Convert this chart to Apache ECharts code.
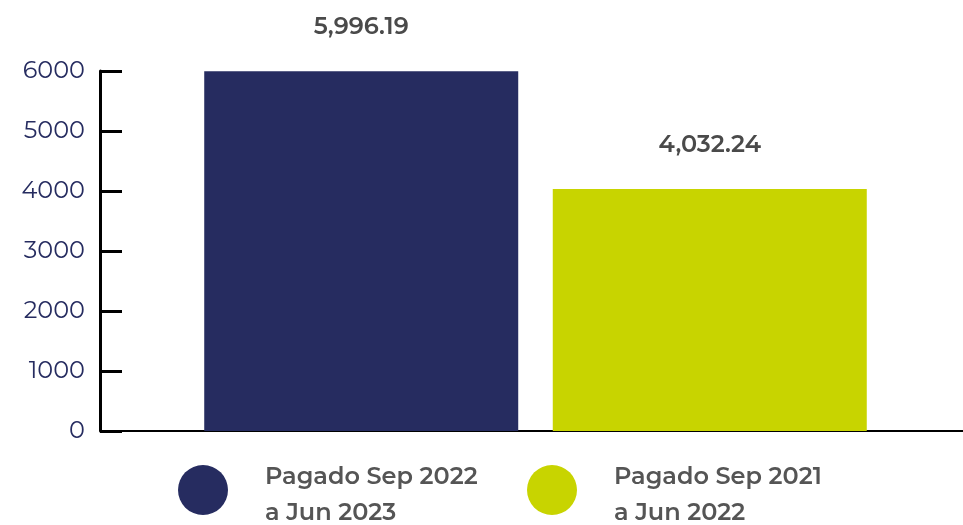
<!DOCTYPE html>
<html>
<head>
<meta charset="utf-8">
<script src="https://cdn.jsdelivr.net/npm/echarts@6/dist/echarts.min.js"></script>
<style>
  html, body { margin: 0; padding: 0; background: #fff; }
  #chart { width: 963px; height: 525px; }
</style>
</head>
<body>
<div id="chart"></div>
<script>
// data
var categories = ['Pagado'];
var seriesNames = ['Pagado Sep 2022\na Jun 2023', 'Pagado Sep 2021\na Jun 2022'];
var valuesCurrent = [5996.19];
var valuesPrevious = [4032.24];
var yTicks = [0, 1000, 2000, 3000, 4000, 5000, 6000];

var colors = ['#262c60', '#c8d400'];
var labelFont = 'Montserrat, "Open Sans", sans-serif';

function fmt(v) {
  return v.toLocaleString('en-US', { minimumFractionDigits: 2, maximumFractionDigits: 2 });
}

var chart = echarts.init(document.getElementById('chart'));

var legendFontBase = { color: '#555555', fontSize: 24, fontWeight: 600, fontFamily: labelFont };

var legendBase = {
  orient: 'vertical',
  icon: 'circle',
  itemWidth: 50,
  itemHeight: 50,
  selectedMode: false,
  // uneven line heights so the dot sits a bit above the middle of the two lines
  formatter: function (name) {
    var parts = name.split('\n');
    return '{l1|' + parts[0] + '}\n{l2|' + parts[1] + '}';
  },
  textStyle: Object.assign({}, legendFontBase, {
    padding: [0, 0, 0, 32],
    rich: {
      l1: Object.assign({}, legendFontBase, { lineHeight: 46 }),
      l2: Object.assign({}, legendFontBase, { lineHeight: 26 })
    }
  })
};

var barLabel = {
  show: true, position: 'top', distance: 32,
  color: '#4a4a4a', fontSize: 24, fontWeight: 600, fontFamily: labelFont,
  formatter: function (p) { return fmt(p.value); }
};

chart.setOption({
  animation: false,
  color: colors,
  // y axis is pulled back onto x=100 with offset; the 0 tick closes the corner
  grid: { left: 108, right: 0, top: 71, height: 360 },
  legend: [
    Object.assign({}, legendBase, { left: 173, top: 460, data: [seriesNames[0]] }),
    Object.assign({}, legendBase, { left: 522, top: 460, data: [seriesNames[1]] })
  ],
  xAxis: {
    type: 'category',
    data: categories,
    axisLine: { lineStyle: { color: '#000', width: 2 } },
    axisTick: { show: false },
    axisLabel: { show: false }
  },
  yAxis: {
    type: 'value',
    offset: 8,
    min: yTicks[0],
    max: yTicks[yTicks.length - 1],
    interval: 1000,
    axisLine: { show: true, lineStyle: { color: '#000', width: 3 } },
    axisTick: { show: true, inside: true, length: 22, lineStyle: { color: '#000', width: 3 } },
    splitLine: { show: false },
    axisLabel: {
      color: '#262c60',
      fontSize: 24,
      fontFamily: labelFont,
      margin: 15,
      formatter: function (v) { return String(v); }
    }
  },
  series: [
    {
      name: seriesNames[0],
      type: 'bar',
      data: valuesCurrent,
      barWidth: 314,
      barGap: '11%',
      label: barLabel
    },
    {
      name: seriesNames[1],
      type: 'bar',
      data: valuesPrevious,
      barWidth: 314,
      label: barLabel
    }
  ]
});
</script>
</body>
</html>
